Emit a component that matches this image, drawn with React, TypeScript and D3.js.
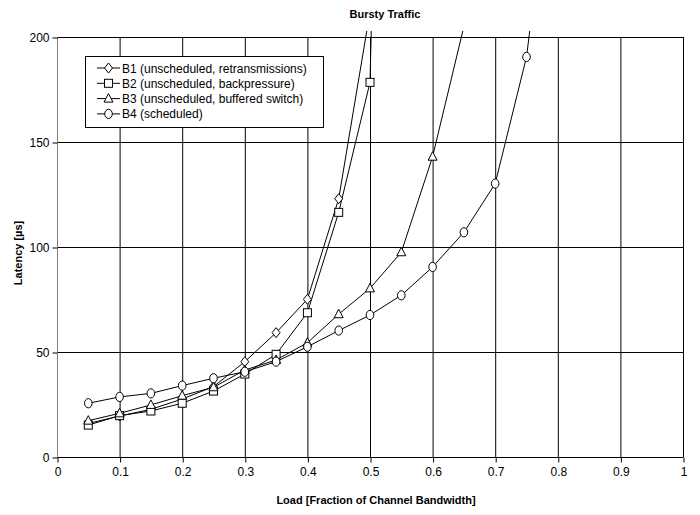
// App.tsx
import React, { useEffect, useRef } from "react";
import * as d3 from "d3";

//=============================== DATA ===============================
// load values (fraction of channel bandwidth) for each series
const loadB1 = [0.05, 0.1, 0.15, 0.2, 0.25, 0.3, 0.35, 0.4, 0.45, 0.5];
const latB1 = [16, 19.5, 22.7, 27.6, 33.5, 45.4, 59.2, 75.1, 123, 212];

const loadB2 = [0.05, 0.1, 0.15, 0.2, 0.25, 0.3, 0.35, 0.4, 0.45, 0.5, 0.55];
const latB2 = [15.2, 19.7, 21.9, 25.6, 31.4, 39.5, 48.9, 68.7, 116.5, 178.4, 800];

const loadB3 = [0.05, 0.1, 0.15, 0.2, 0.25, 0.3, 0.35, 0.4, 0.45, 0.5, 0.55, 0.6, 0.65];
const latB3 = [17.3, 20.8, 24.8, 29.2, 33.2, 41.4, 46.2, 54.4, 68, 80.3, 97.5, 143, 205];

const loadB4 = [0.05, 0.1, 0.15, 0.2, 0.25, 0.3, 0.35, 0.4, 0.45, 0.5, 0.55, 0.6, 0.65, 0.7, 0.75, 0.8];
const latB4 = [25.6, 28.6, 30.3, 34, 37.5, 40.6, 45.4, 52.5, 60.2, 67.6, 77, 90.5, 107, 130.2, 190.5, 310];

const seriesNames = [
  "B1 (unscheduled, retransmissions)",
  "B2 (unscheduled, backpressure)",
  "B3 (unscheduled, buffered switch)",
  "B4 (scheduled)",
];
const seriesMarkers = ["diamond", "square", "triangle", "circle"];

const xTicks = [0, 0.1, 0.2, 0.3, 0.4, 0.5, 0.6, 0.7, 0.8, 0.9, 1];
const yTicks = [0, 50, 100, 150, 200];

const FONT = "'Liberation Sans', Arial, sans-serif";

// draws one marker shape centred at (cx, cy)
const drawMarker = (g: any, kind: string, cx: number, cy: number) => {
  const style = (s: any) => s.attr("fill", "#fff").attr("stroke", "#000").attr("stroke-width", 1);
  if (kind === "diamond") {
    style(g.append("path").attr("d", `M${cx},${cy - 5}L${cx + 4},${cy}L${cx},${cy + 5}L${cx - 4},${cy}Z`));
  } else if (kind === "square") {
    style(g.append("rect").attr("x", cx - 4).attr("y", cy - 4).attr("width", 8).attr("height", 8));
  } else if (kind === "triangle") {
    style(g.append("path").attr("d", `M${cx},${cy - 5}L${cx + 4.5},${cy + 3.5}L${cx - 4.5},${cy + 3.5}Z`));
  } else {
    style(g.append("ellipse").attr("cx", cx).attr("cy", cy).attr("rx", 3.8).attr("ry", 4.6));
  }
};

export default function App() {
  const svgRef = useRef<SVGSVGElement | null>(null);

  useEffect(() => {
    const svg = d3.select(svgRef.current);
    svg.selectAll("*").remove();

    //=============================== SCALES ===============================
    const x = d3.scaleLinear().domain([0, 1]).range([57, 683]);
    const y = d3.scaleLinear().domain([0, 200]).range([457, 37]);

    //=============================== GRID ===============================
    const grid = svg.append("g");
    xTicks.slice(1).forEach((t) => {
      grid.append("line")
        .attr("x1", x(t) + 0.5).attr("x2", x(t) + 0.5)
        .attr("y1", y(200)).attr("y2", y(0))
        .attr("stroke", "#000").attr("stroke-width", 1);
    });
    yTicks.slice(1).forEach((t) => {
      grid.append("line")
        .attr("x1", x(0)).attr("x2", x(1) + 1)
        .attr("y1", y(t) + 0.5).attr("y2", y(t) + 0.5)
        .attr("stroke", "#000").attr("stroke-width", 1);
    });

    //=============================== AXES ===============================
    const yAxis = svg.append("g").attr("transform", `translate(${x(0) + 0.5},0.5)`)
      .call(d3.axisLeft(y).tickValues(yTicks).tickSize(5).tickPadding(3).tickFormat(d3.format("d")));
    yAxis.select(".domain").attr("stroke", "#808080").attr("d", `M0,${y(200)}V${y(0)}`);
    yAxis.selectAll(".tick line").attr("stroke", "#000");
    yAxis.selectAll("text").attr("font-family", FONT).attr("font-size", 12).attr("fill", "#000");

    const xAxis = svg.append("g").attr("transform", `translate(0.5,${y(0) + 0.5})`)
      .call(d3.axisBottom(x).tickValues(xTicks).tickSize(5).tickPadding(5)
        .tickFormat((d: any) => (d === 0 ? "0" : d === 1 ? "1" : d3.format(".1f")(d))));
    xAxis.select(".domain").attr("stroke", "#000").attr("d", `M${x(0)},0H${x(1)}`);
    xAxis.selectAll("text").attr("font-family", FONT).attr("font-size", 12).attr("fill", "#000");

    //=============================== SERIES ===============================
    svg.append("clipPath").attr("id", "plotClip")
      .append("rect").attr("x", x(0)).attr("y", 31).attr("width", x(1) - x(0)).attr("height", y(0) - 31);

    const series = [
      { load: loadB1, lat: latB1 },
      { load: loadB2, lat: latB2 },
      { load: loadB3, lat: latB3 },
      { load: loadB4, lat: latB4 },
    ];
    const line = d3.line<[number, number]>().x((d) => x(d[0])).y((d) => y(d[1]));
    const plot = svg.append("g").attr("clip-path", "url(#plotClip)");

    series.forEach((s, i) => {
      const pts: [number, number][] = s.load.map((l, j) => [l, s.lat[j]]);
      plot.append("path").attr("d", line(pts)).attr("fill", "none")
        .attr("stroke", "#000").attr("stroke-width", 1);
    });
    // markers only for points that sit inside the value axis range
    series.forEach((s, i) => {
      s.load.forEach((l, j) => {
        if (s.lat[j] <= 200) drawMarker(plot, seriesMarkers[i], x(l), y(s.lat[j]));
      });
    });

    //=============================== LEGEND ===============================
    const legend = svg.append("g");
    legend.append("rect").attr("x", 85.5).attr("y", 56.5).attr("width", 238).attr("height", 71)
      .attr("fill", "#fff").attr("stroke", "#000");
    seriesNames.forEach((name, i) => {
      const ly = 68 + i * 15.3;
      legend.append("line").attr("x1", 97).attr("x2", 120).attr("y1", ly).attr("y2", ly)
        .attr("stroke", "#000");
      drawMarker(legend, seriesMarkers[i], 108.5, ly);
      legend.append("text").attr("x", 122).attr("y", ly + 4.5).text(name)
        .attr("font-family", FONT).attr("font-size", 12);
    });

    //=============================== TITLES ===============================
    svg.append("text").attr("x", 385).attr("y", 18).attr("text-anchor", "middle")
      .attr("font-family", FONT).attr("font-size", 11).attr("font-weight", "bold").text("Bursty Traffic");
    svg.append("text").attr("x", 376).attr("y", 504).attr("text-anchor", "middle")
      .attr("font-family", FONT).attr("font-size", 11).attr("font-weight", "bold")
      .text("Load [Fraction of Channel Bandwidth]");
    svg.append("text").attr("transform", `translate(22,${(y(0) + y(200)) / 2 + 6}) rotate(-90)`)
      .attr("text-anchor", "middle")
      .attr("font-family", FONT).attr("font-size", 11).attr("font-weight", "bold").text("Latency [µs]");
  }, []);

  return (
    <svg ref={svgRef} width={700} height={515}
      style={{ position: "absolute", left: 0, top: 0, background: "#fff" }} />
  );
}
